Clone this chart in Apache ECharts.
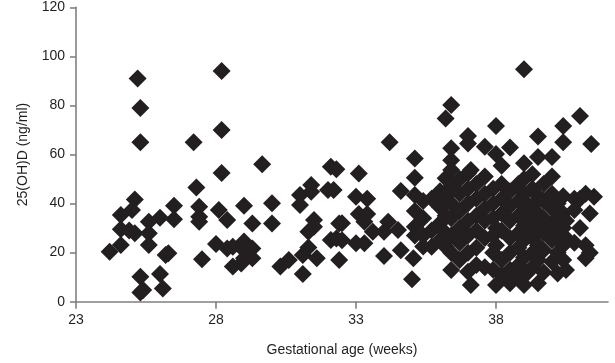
<!DOCTYPE html>
<html><head><meta charset="utf-8">
<style>html,body{margin:0;padding:0;background:#fff}#c{width:615px;height:363px}</style>
<script src="https://cdn.jsdelivr.net/npm/echarts@6/dist/echarts.min.js"></script></head>
<body><div id="c"></div>
<script>
const xTitle = "Gestational age (weeks)";
const yTitle = "25(OH)D (ng/ml)";
const earlyPoints = [[24.2,20.4],[24.6,23.1],[24.6,35.3],[24.6,29.5],[25,37.4],[25.1,41.7],[25.1,27.9],[24.9,29],[25.6,32.6],[26,34.2],[26.5,39.1],[26.5,33.6],[25.6,27.9],[25.6,23.1],[26.2,19],[26.3,19.7],[25.3,10.2],[26,11.3],[25.4,4.8],[26.1,5.4],[25.3,3.7],[27.3,46.5],[27.4,38.7],[27.4,34.6],[27.4,32.6],[28.1,37.4],[28.4,33.3],[29,39.1],[29.3,31.9],[30,40.1],[30,31.9],[27.5,17.3],[28,23.5],[28.4,21.7],[28.6,22.4],[29,24.5],[29,21],[29.3,21.7],[29,17.7],[29.3,17.7],[28.6,14.3],[28.9,15.6],[25.2,91],[25.3,79],[25.3,65],[27.2,65],[28.2,94],[28.2,70],[28.2,52.5],[29.65,56]];
const midPoints = [[30.3,14.3],[30.6,17],[31.1,11.3],[31.1,19],[31.3,22.1],[31.6,17.7],[31.3,28.5],[31.5,33.3],[31.5,30.6],[31,39.4],[31,43.5],[31.4,47.6],[31.4,44.8],[32,45.5],[32.2,45.5],[32.1,25.1],[32.3,25.8],[32.4,31.9],[32.4,17],[32.1,55],[32.3,54],[33.1,52.3],[33,42.8],[33.4,42],[33.1,35.7],[33.4,35.7],[33.3,32.6],[33.6,28.5],[34.15,32.6],[34.5,29.2],[34,28.5],[33.3,23.8],[33,23.8],[32.5,32],[32.5,25],[34.2,65],[34.6,45.1],[34,18.6],[34.6,21],[35.05,17.7],[35,9.1],[35.1,58.4],[35.1,50.5]];
const termColumns = [
 [35.1,[43.5,37,30.5,27]],[35.4,[41,34,27,22.5]],[35.7,[42,29,22.4]],[36,[45,38.5,32,25]],
 [36.2,[74.7,50.3,43,35,28,22.4]],[36.4,[80.2,62.5,57.7,53.7,47,40,34,27,20,12.9]],
 [36.7,[50,44,37,30,24,17]],[37,[67.5,64.5,52.3,46,40,33,27,20,12.2]],[37.1,[53.7,6.8]],
 [37.3,[48,42,35,29,22,15]],[37.6,[63.2,51,44,38,33,26,14]],[37.9,[46,40,34,27,20,13]],
 [38,[71.6,60.2,30,23,6.8]],[38.2,[55.4,48,42,36,29,17,10.9]],[38.5,[62.9,45,39,33,26,20,13,7.5]],
 [38.8,[48,41,35,28,22,15,10]],[39,[94.7,56.4,50,44,37,31,25,18,6.8]],[39.1,[40,34,28,11.5]],
 [39.3,[52,46,39,32,26,20,14]],[39.5,[67.3,59,43,36,30,23,17,7.5]],[39.7,[48,41,34,28,21,12]],
 [40,[59,51,44,38,31,25,16.3]],[40.2,[40,34,27,20,11.5]],[40.4,[71.6,65,43,36,30,23,17]],
 [40.5,[33,26,12.9]],[40.8,[42,37.4,24]],[41,[75.7,42,30]],[41.2,[44,23,17.7]],[41.35,[36,20]],[41.4,[64.3]],[41.5,[42.8]]
];
const allPoints = earlyPoints.concat(midPoints, termColumns.flatMap(([w, ys]) => ys.map(y => [w, y])));
const ink = "#231f20", axisGrey = "#808080";
const font = {color: ink, fontFamily: "Liberation Sans", fontSize: 14};
const chart = echarts.init(document.getElementById("c"), null, {renderer: "canvas"});
chart.setOption({
  animation: false,
  grid: {left: 76, right: 7, top: 7.3, bottom: 61.3},
  xAxis: {type: "value", min: 23, max: 42, interval: 5,
    name: xTitle, nameLocation: "middle", nameGap: 41, nameTextStyle: font,
    splitLine: {show: false},
    axisLine: {onZero: false, lineStyle: {color: axisGrey, width: 1.6}},
    axisTick: {show: true, length: 7, lineStyle: {color: axisGrey, width: 1.6}},
    axisLabel: {...font, margin: 11, showMaxLabel: false}},
  yAxis: {type: "value", min: 0, max: 120, interval: 20,
    name: yTitle, nameLocation: "middle", nameGap: 46, nameRotate: 90, nameTextStyle: font,
    splitLine: {show: false},
    axisLine: {show: true, lineStyle: {color: axisGrey, width: 1.6}},
    axisTick: {show: true, length: 6, lineStyle: {color: axisGrey, width: 1.6}},
    axisLabel: {...font, margin: 11}},
  series: [{type: "scatter", data: allPoints, symbol: "diamond", symbolSize: 18, clip: false,
    itemStyle: {color: ink, opacity: 1}}]
});
</script></body></html>
